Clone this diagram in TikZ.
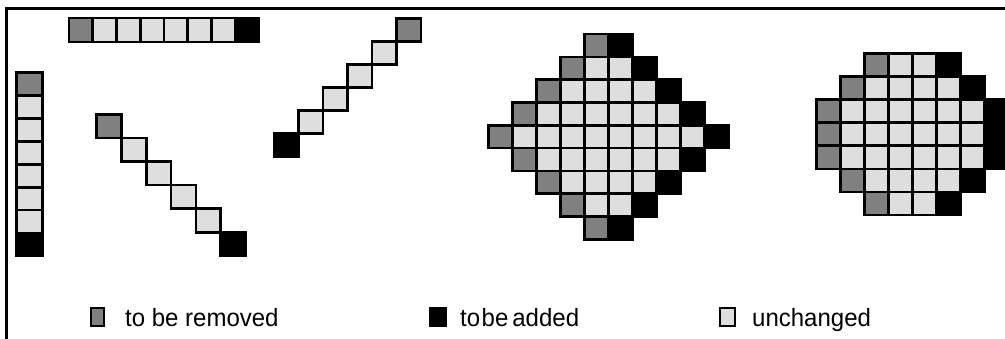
\documentclass[tikz,border=0pt]{standalone}
\usepackage{fontspec}
\setmainfont{Liberation Sans}[FakeStretch=0.96]
\definecolor{rmgray}{HTML}{808080}
\definecolor{keepgray}{HTML}{DEDEDE}
\tikzset{
  rmcell/.style={fill=rmgray, draw=black, line width=2.6pt},
  addcell/.style={fill=black, draw=black, line width=2.6pt},
  keepcell/.style={fill=keepgray, draw=black, line width=2.6pt},
  frameline/.style={line width=3pt, line cap=rect},
  legendbox/.style={draw=black, line width=2pt},
  legendtext/.style={anchor=base west, inner sep=0pt, font=\fontsize{25}{30}\selectfont}
}
\begin{document}
\begin{tikzpicture}[x=1pt,y=-1pt]
\useasboundingbox (0,0) rectangle (1005,338);
% frame
\coordinate (fb) at (6.5,338);
\coordinate (fc) at (6.5,8);
\coordinate (fr) at (1005,8);
\draw[frameline] (fb) -- (fc) -- (fr);

% horizontal row
\path[rmcell] (69,18) rectangle ++(23.75,24);
\foreach \c in {1,...,6} {\path[keepcell] (69+23.75*\c,18) rectangle ++(23.75,24);}
\path[addcell] (69+23.75*7,18) rectangle ++(23.75,24);

% vertical column
\path[rmcell] (16.5,72.7) rectangle ++(26,22.9);
\foreach \r in {1,...,6} {\path[keepcell] (16.5,72.7+22.9*\r) rectangle ++(26,22.9);}
\path[addcell] (16.5,72.7+22.9*7) rectangle ++(26,22.9);

% diagonal down
\path[rmcell] (96.7,114.3) rectangle ++(24.8,23.6);
\foreach \k in {1,...,4} {\path[keepcell] (96.7+24.8*\k,114.3+23.6*\k) rectangle ++(24.8,23.6);}
\path[addcell] (96.7+24.8*5,114.3+23.6*5) rectangle ++(24.8,23.6);

% diagonal up
\path[rmcell] (396.5,18.3) rectangle ++(24.5,23.07);
\foreach \k in {1,...,4} {\path[keepcell] (396.5-24.5*\k,18.3+23.07*\k) rectangle ++(24.5,23.07);}
\path[addcell] (396.5-24.5*5,18.3+23.07*5) rectangle ++(24.5,23.07);

% diamond
\foreach \r/\g/\b in {0/4/5,1/3/6,2/2/7,3/1/8,4/0/9,5/1/8,6/2/7,7/3/6,8/4/5} {
  \path[rmcell] (488.3+24*\g,34+22.8*\r) rectangle ++(24,22.8);
  \ifnum\numexpr\b-\g\relax>1
    \pgfmathtruncatemacro\lo{\g+1}
    \pgfmathtruncatemacro\hi{\b-1}
    \foreach \c in {\lo,...,\hi} {\path[keepcell] (488.3+24*\c,34+22.8*\r) rectangle ++(24,22.8);}
  \fi
  \path[addcell] (488.3+24*\b,34+22.8*\r) rectangle ++(24,22.8);
}

% disk
\foreach \r/\g/\b in {0/2/5,1/1/6,2/0/7,3/0/7,4/0/7,5/1/6,6/2/5} {
  \path[rmcell] (816.7+24*\g,53.3+23.1*\r) rectangle ++(24,23.1);
  \pgfmathtruncatemacro\lo{\g+1}
  \pgfmathtruncatemacro\hi{\b-1}
  \foreach \c in {\lo,...,\hi} {\path[keepcell] (816.7+24*\c,53.3+23.1*\r) rectangle ++(24,23.1);}
  \path[addcell] (816.7+24*\b,53.3+23.1*\r) rectangle ++(24,23.1);
}

% legend
\path[legendbox, fill=rmgray] (91,308) rectangle (104,326);
\node[legendtext] (lrm) at (125,326) {to be removed};
\path[legendbox, fill=black] (430,308) rectangle (446,326);
\node[legendtext] (ladd) at (460,326) {to\hspace{1.5pt}be\hspace{4pt}added};
\path[legendbox, fill=keepgray] (720,308) rectangle (735,326);
\node[legendtext] (lkeep) at (752,326) {unchanged};
\end{tikzpicture}
\end{document}
